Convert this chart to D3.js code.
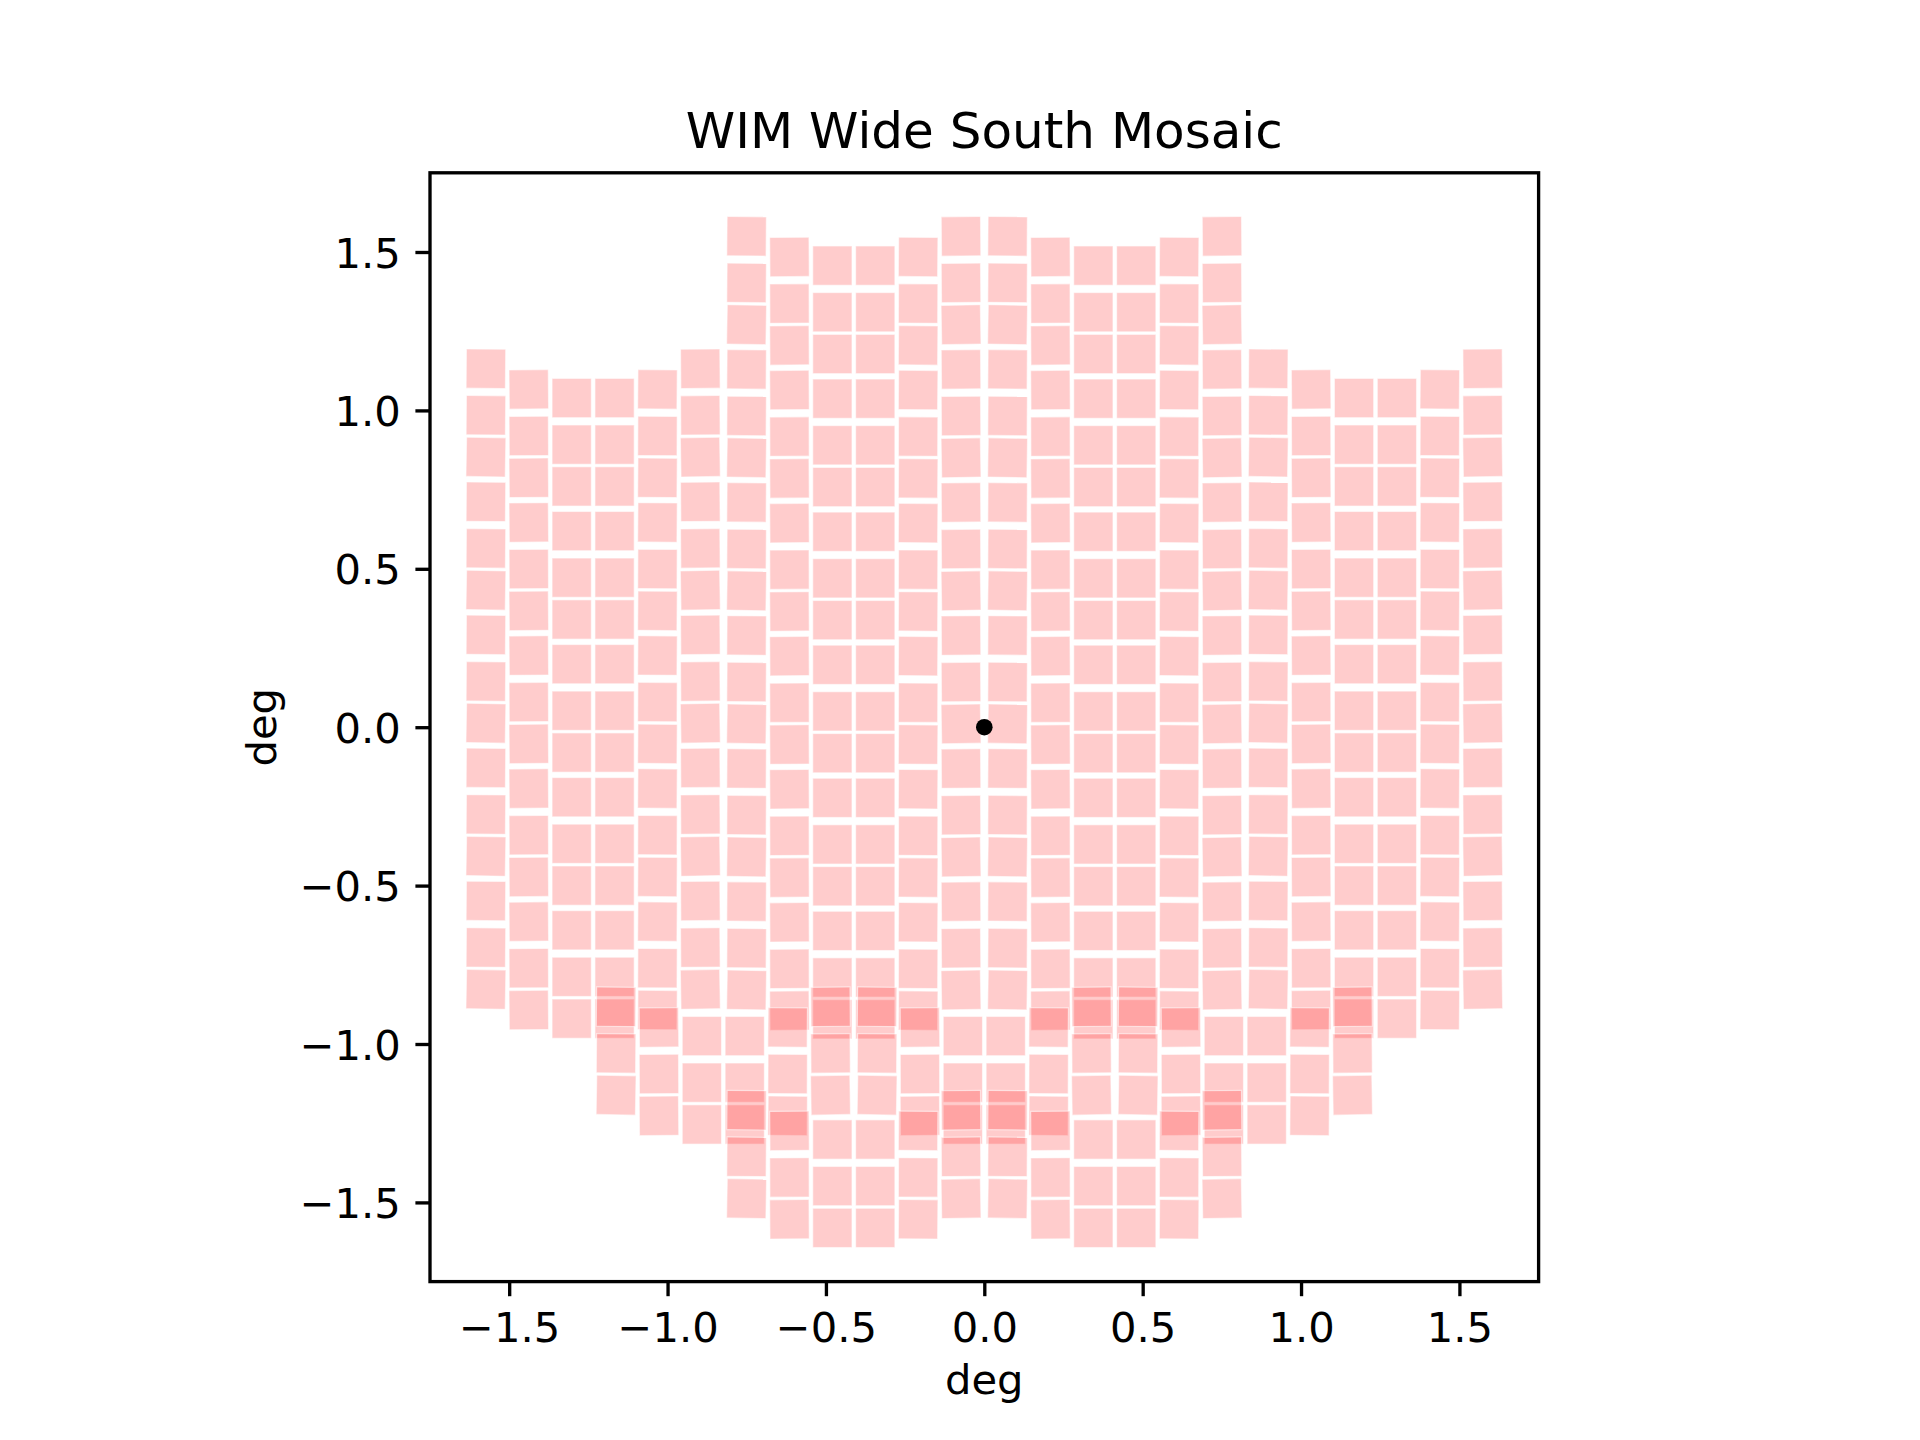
<!DOCTYPE html>
<html>
<head>
<meta charset="utf-8">
<script src="https://cdn.jsdelivr.net/npm/d3@7"></script>
<style>
  body { margin: 0; background: #fff; }
  text { font-family: "DejaVu Sans", sans-serif; fill: #000; }
</style>
</head>
<body>
<div id="chart"></div>
<script>
// --- detector layout of one pointing (deg) ---
// x offset of each detector column from the pointing centre
let detColumnX = [-0.3385, -0.2031, -0.0677, 0.0677, 0.2031, 0.3385];
// how far each column's top sits below the outer columns
let detColumnDrop = [0, 0.0652, 0.0925, 0.0925, 0.0652, 0];
// row offsets below the column top
let detRowDrop = [0, 0.147, 0.279];
let detSize = 0.124;
// small tilt of each detector (deg on screen), [column][row]
let detTilt = [
    [0.5, 0.5, 1.0],
    [-0.5, -0.3, -0.5],
    [0, 0, 0],
    [0, 0, 0],
    [0.5, 0.3, 0.5],
    [-0.5, -0.5, -1.0]
];

// --- pointings: centre x and top y of the outer detector columns (deg) ---
let pointingX = [
    -1.235, -1.235, -1.235, -1.235, -1.235,
    1.235, 1.235, 1.235, 1.235, 1.235,
    -0.412, -0.412, -0.412, -0.412, -0.412, -0.412,
    0.412, 0.412, 0.412, 0.412, 0.412, 0.412,
    -0.824, 0, 0.824,
    -0.412, 0.412
];
let pointingTop = [
    1.1935, 0.7735, 0.3535, -0.0665, -0.4865,
    1.1935, 0.7735, 0.3535, -0.0665, -0.4865,
    1.6115, 1.1915, 0.7715, 0.3515, -0.0685, -0.4885,
    1.6115, 1.1915, 0.7715, 0.3515, -0.0685, -0.4885,
    -0.8205, -0.8205, -0.8205,
    -1.147, -1.147
];

// field centre marker
let centreX = [0];
let centreY = [0];

let xTicks = [-1.5, -1.0, -0.5, 0.0, 0.5, 1.0, 1.5];
let yTicks = [-1.5, -1.0, -0.5, 0.0, 0.5, 1.0, 1.5];
let xLimits = [-1.75, 1.75];
let yLimits = [-1.75, 1.75];

// overall figure size, axes box
let svgWidth = 1920;
let svgHeight = 1440;
let axesBox = { left: 430, right: 1538.6, top: 172.8, bottom: 1281.6 };

let tickLen = 14.6;
let lineW = 3.33;

let svg = d3.select("#chart")
    .append("svg")
    .attr("width", svgWidth)
    .attr("height", svgHeight);

let xScale = d3.scaleLinear().domain(xLimits).range([axesBox.left, axesBox.right]);
let yScale = d3.scaleLinear().domain(yLimits).range([axesBox.bottom, axesBox.top]);

// build the tile list from pointings x detectors
let tiles = [];
pointingX.forEach(function(px, p) {
    detColumnX.forEach(function(dx, c) {
        detRowDrop.forEach(function(dy, r) {
            tiles.push({
                x0: px + dx - detSize / 2,
                x1: px + dx + detSize / 2,
                top: pointingTop[p] - detColumnDrop[c] - dy,
                tilt: detTilt[c][r]
            });
        });
    });
});

let tileGroup = svg.append("g");
tileGroup.selectAll("rect")
    .data(tiles)
    .enter()
    .append("rect")
    .attr("x", d => xScale(d.x0))
    .attr("y", d => yScale(d.top))
    .attr("width", d => xScale(d.x1) - xScale(d.x0))
    .attr("height", d => yScale(d.top - detSize) - yScale(d.top))
    .attr("transform", function(d) {
        let cx = (xScale(d.x0) + xScale(d.x1)) / 2;
        let cy = yScale(d.top - detSize / 2);
        return `rotate(${d.tilt},${cx},${cy})`;
    })
    .attr("fill", "red")
    .attr("fill-opacity", 0.2)
    .attr("stroke", "white")
    .attr("stroke-opacity", 0.55)
    .attr("stroke-width", 1.2);

// centre dot
svg.append("g").selectAll("circle")
    .data(centreX)
    .enter()
    .append("circle")
    .attr("cx", d => xScale(d))
    .attr("cy", (d, i) => yScale(centreY[i]))
    .attr("r", 8.3)
    .attr("fill", "black");

// axes
let fmt = d3.format(".1f");

let xAxis = svg.append("g")
    .attr("transform", `translate(0,${axesBox.bottom})`)
    .call(d3.axisBottom(xScale).tickValues(xTicks).tickSize(tickLen).tickFormat(fmt));
xAxis.select(".domain").remove();
xAxis.selectAll(".tick line").attr("stroke", "black").attr("stroke-width", lineW);
xAxis.selectAll(".tick text")
    .attr("y", 60.1)
    .attr("dy", null)
    .attr("font-size", "41.67px")
    .attr("font-family", "DejaVu Sans");

let yAxis = svg.append("g")
    .attr("transform", `translate(${axesBox.left},0)`)
    .call(d3.axisLeft(yScale).tickValues(yTicks).tickSize(tickLen).tickFormat(fmt));
yAxis.select(".domain").remove();
yAxis.selectAll(".tick line").attr("stroke", "black").attr("stroke-width", lineW);
yAxis.selectAll(".tick text")
    .attr("x", -29.2)
    .attr("y", 15)
    .attr("dy", null)
    .attr("font-size", "41.67px")
    .attr("font-family", "DejaVu Sans");

// frame
svg.append("rect")
    .attr("x", axesBox.left)
    .attr("y", axesBox.top)
    .attr("width", axesBox.right - axesBox.left)
    .attr("height", axesBox.bottom - axesBox.top)
    .attr("fill", "none")
    .attr("stroke", "black")
    .attr("stroke-width", lineW);

// title and labels
let midX = (axesBox.left + axesBox.right) / 2;
let midY = (axesBox.top + axesBox.bottom) / 2;

svg.append("text")
    .attr("x", midX)
    .attr("y", 147.8)
    .attr("text-anchor", "middle")
    .attr("font-size", "50px")
    .text("WIM Wide South Mosaic");

svg.append("text")
    .attr("x", midX)
    .attr("y", 1394)
    .attr("text-anchor", "middle")
    .attr("font-size", "41.67px")
    .text("deg");

svg.append("text")
    .attr("transform", `translate(275.7,${midY}) rotate(-90)`)
    .attr("text-anchor", "middle")
    .attr("font-size", "41.67px")
    .text("deg");
</script>
</body>
</html>
